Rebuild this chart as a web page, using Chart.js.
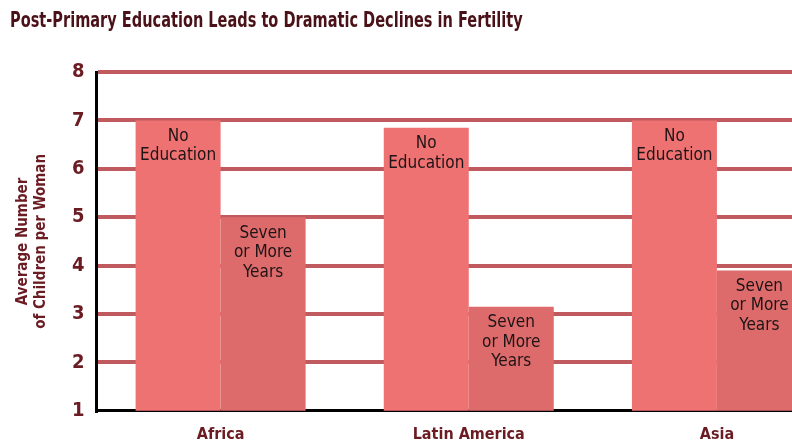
<!DOCTYPE html>
<html>
<head>
<meta charset="utf-8">
<script src="https://cdnjs.cloudflare.com/ajax/libs/Chart.js/4.4.1/chart.umd.min.js"></script>
<style>
  html, body { margin: 0; padding: 0; background: #fff; overflow: hidden; }
  #wrap { position: relative; width: 850px; height: 452px; }
</style>
</head>
<body>
<div id="wrap"><canvas id="c"></canvas></div>
<script>
// data
const regions = ['Africa', 'Latin America', 'Asia'];
const noEducation = [7.0, 6.85, 7.0];
const sevenPlus = [5.0, 3.15, 3.9];
const seriesNames = ['No Education', 'Seven or More Years'];
const barLabels = [['No', 'Education'], ['Seven', 'or More', 'Years']];
const yTicks = [1, 2, 3, 4, 5, 6, 7, 8];
const chartTitle = 'Post-Primary Education Leads to Dramatic Declines in Fertility';

const NARROW = "'Liberation Sans Narrow', 'DejaVu Sans Condensed', sans-serif";
const DARK_RED = '#6b1c22';

// condensed title, squeezed sideways like the original typeface
const narrowTitle = {
  id: 'narrowTitle',
  afterDraw(chart) {
    const { ctx } = chart;
    ctx.save();
    ctx.font = 'bold 21px ' + NARROW;
    ctx.fillStyle = '#4a1218';
    ctx.textBaseline = 'middle';
    ctx.translate(10, 22);
    ctx.scale(0.77, 1);
    ctx.fillText(chartTitle, 0, 0);
    ctx.restore();
  }
};

// draws the series names inside the top of each bar
const innerLabels = {
  id: 'innerLabels',
  afterDatasetsDraw(chart) {
    const { ctx } = chart;
    ctx.save();
    ctx.font = '17px ' + NARROW;
    ctx.fillStyle = '#1e1416';
    ctx.textAlign = 'center';
    ctx.textBaseline = 'middle';
    chart.data.datasets.forEach((ds, i) => {
      const lines = barLabels[i];
      chart.getDatasetMeta(i).data.forEach(bar => {
        lines.forEach((ln, j) => {
          ctx.fillText(ln, bar.x, bar.y + 16 + j * 19.5);
        });
      });
    });
    ctx.restore();
  }
};

new Chart(document.getElementById('c'), {
  type: 'bar',
  data: {
    labels: regions,
    datasets: [
      { label: seriesNames[0], data: noEducation, backgroundColor: '#ef7272' },
      { label: seriesNames[1], data: sevenPlus, backgroundColor: '#de6b6b' },
    ],
  },
  options: {
    responsive: true,
    maintainAspectRatio: false,
    animation: false,
    layout: { padding: { left: 14, right: 9, top: 72, bottom: 2 } },
    datasets: { bar: { barPercentage: 1, categoryPercentage: 0.685, borderWidth: 0 } },
    plugins: {
      legend: { display: false },
      tooltip: { enabled: false },
      title: { display: false },
    },
    scales: {
      x: {
        grid: { display: false },
        border: { color: '#000', width: 3 },
        ticks: {
          color: DARK_RED,
          font: { family: NARROW, size: 16, weight: 'bold' },
          padding: 6,
        },
      },
      y: {
        min: yTicks[0],
        max: yTicks[yTicks.length - 1],
        afterBuildTicks(scale) { scale.ticks = yTicks.map(v => ({ value: v })); },
        border: { color: '#000', width: 3 },
        grid: {
          color: ctx => (ctx.tick && ctx.tick.value === 1 ? 'rgba(0,0,0,0)' : '#c05a5e'),
          lineWidth: 4,
          drawTicks: false,
        },
        ticks: {
          color: DARK_RED,
          font: { family: NARROW, size: 20, weight: 'bold' },
          padding: 12,
        },
        title: {
          display: true,
          text: ['Average Number', 'of Children per Woman'],
          color: DARK_RED,
          font: { family: NARROW, size: 15, weight: 'bold' },
          padding: { top: 0, bottom: 10 },
        },
      },
    },
  },
  plugins: [innerLabels, narrowTitle],
});
</script>
</body>
</html>
